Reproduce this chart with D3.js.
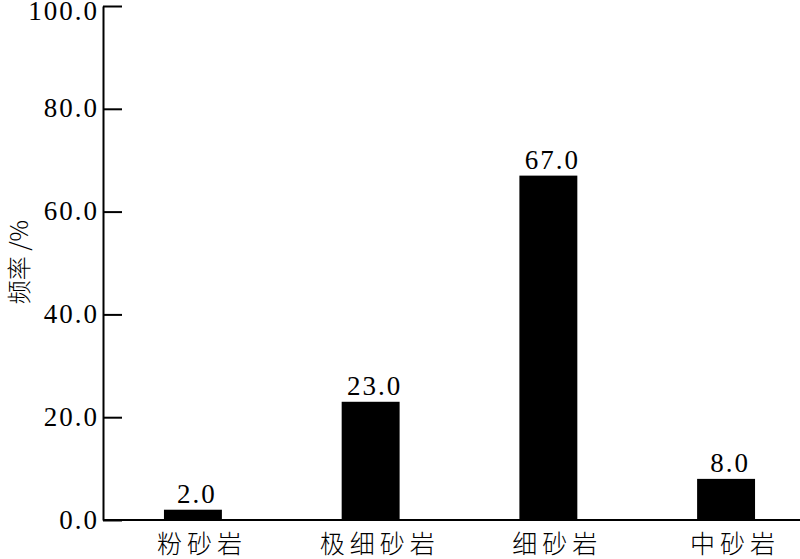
<!DOCTYPE html>
<html>
<head>
<meta charset="utf-8">
<script src="https://cdn.jsdelivr.net/npm/d3@7"></script>
<style>
  body { margin: 0; background: #fff; }
  svg text { fill: #000; }
  .num { font-family: "Liberation Serif", serif; font-size: 27px; letter-spacing: 2px; }
  .cjk { font-family: "Noto Sans CJK SC", sans-serif; font-weight: 300; }
</style>
</head>
<body>
<div id="chart"></div>
<script>
var categories = ["粉砂岩", "极细砂岩", "细砂岩", "中砂岩"];
var values = [2.0, 23.0, 67.0, 8.0];
var yTicks = [0, 20, 40, 60, 80, 100];
var yTitle = "频率 /%";

var width = 800;
var height = 559;
var x0 = 103, yTop = 6, yBottom = 520;

var svg = d3.select("#chart").append("svg")
  .attr("width", width)
  .attr("height", height);

var xScale = d3.scaleBand()
  .domain(categories)
  .range([x0, 816])
  .paddingInner(0.674)
  .paddingOuter(0.343);

var yScale = d3.scaleLinear()
  .domain([0, 100])
  .range([yBottom, yTop]);

// bars
svg.append("g")
  .selectAll("rect")
  .data(values).enter()
  .append("rect")
  .attr("x", (d, i) => xScale(categories[i]))
  .attr("y", d => yScale(d))
  .attr("width", xScale.bandwidth())
  .attr("height", d => yBottom - yScale(d))
  .attr("fill", "#000");

// value labels
svg.append("g")
  .selectAll("text")
  .data(values).enter()
  .append("text")
  .attr("class", "num")
  .attr("x", (d, i) => xScale(categories[i]) + xScale.bandwidth() / 2 + 4)
  .attr("y", d => yScale(d) - 7)
  .attr("text-anchor", "middle")
  .text(d => d.toFixed(1));

// y axis
var yAxis = d3.axisLeft(yScale)
  .tickValues(yTicks)
  .tickFormat(d => d.toFixed(1))
  .tickSizeInner(-19)
  .tickSizeOuter(0)
  .tickPadding(4);

var yg = svg.append("g")
  .attr("transform", `translate(${x0},0)`)
  .call(yAxis)
  .attr("font-family", null)
  .attr("font-size", null);
yg.select(".domain").attr("stroke-width", 2);
yg.selectAll(".tick line").attr("stroke-width", 2);
yg.selectAll(".tick text")
  .attr("class", "num")
  .attr("dy", d => d === 100 ? "0.5em" : "0.3em");

// x axis
var xAxis = d3.axisBottom(xScale)
  .tickSize(0)
  .tickPadding(15);

var xg = svg.append("g")
  .attr("transform", `translate(0,${yBottom})`)
  .call(xAxis)
  .attr("font-family", null)
  .attr("font-size", null);
xg.select(".domain")
  .attr("d", `M${x0},0H${width}`)
  .attr("stroke-width", 2);
xg.selectAll(".tick text")
  .attr("class", "cjk")
  .style("font-size", "25px")
  .style("letter-spacing", "5px")
  .attr("dx", "9px");

// y title
svg.append("text")
  .attr("class", "cjk")
  .attr("transform", "translate(28,262) rotate(-90)")
  .attr("text-anchor", "middle")
  .style("font-size", "24px")
  .text(yTitle);
</script>
</body>
</html>
